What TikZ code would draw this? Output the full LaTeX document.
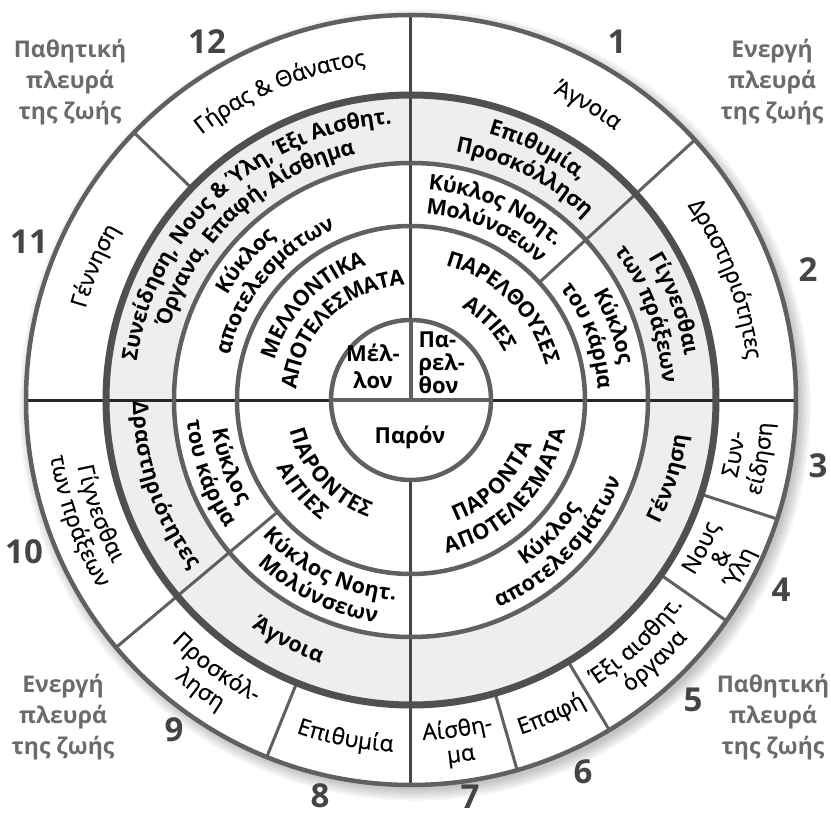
\documentclass[tikz,border=0pt]{standalone}
\usepackage{fontspec}
\setmainfont{Open Sans}
\newfontface\midface{Open Sans}[FakeBold=0.6]
\usepackage{tikz}
\usetikzlibrary{decorations.text}
\definecolor{ringD}{HTML}{606060}
\definecolor{thickD}{HTML}{505050}
\definecolor{bandF}{HTML}{EEEEEE}
\definecolor{numG}{HTML}{454545}
\definecolor{sideG}{HTML}{6B6B6B}

\newcommand\outfont{\midface\fontsize{22.5}{22.5}\selectfont}
\newcommand\ringfont{\bfseries\fontsize{21.5}{21.5}\selectfont}
% text along an arc: radius, middle angle, font, text
\newcommand\cwtext[4]{%
  \path[decorate, decoration={text along path, text align=center, raise=-7pt,
    text={|#3|#4}}] ({#2+70}:#1) arc[start angle={#2+70}, end angle={#2-70}, radius=#1];}
\newcommand\ccwtext[4]{%
  \path[decorate, decoration={text along path, text align=center, raise=-7pt,
    text={|#3|#4}}] ({#2-70}:#1) arc[start angle={#2-70}, end angle={#2+70}, radius=#1];}

\begin{document}
\begin{tikzpicture}[x=1pt,y=1pt,
  ring/.style={draw=ringD, line width=4.5pt},
  thickring/.style={draw=thickD, line width=7pt},
  divider/.style={draw=ringD, line width=3pt},
  num/.style={font=\bfseries\fontsize{33}{33}\selectfont, text=numG},
  side/.style={font=\bfseries\fontsize{23}{31}\selectfont, text=sideG, align=center},
  inner/.style={font=\bfseries\fontsize{22}{23}\selectfont},
  ]
\useasboundingbox (-411,-417) rectangle (420,400);

% === shadow and disc
\foreach \k in {1,...,8} {\fill[black, opacity=0.03] (4,-5) circle ({383+\k*1.6});}
\fill[white] (0,0) circle (385);
\fill[bandF, even odd rule] (0,0) circle (305) (0,0) circle (237);

% === cross lines
\draw[line width=3pt, draw=black!85] (-385,0) -- (385,0);
\draw[line width=3pt, draw=numG] (0,385) -- (0,0);
\draw[line width=3pt, draw=numG] (0,-80) -- (0,-385);

% === dividers
\foreach \a in {136,248,-18,-35,-59,-74} {\draw[divider] (\a:305) -- (\a:385);}
\foreach \a in {42.5,220} {\draw[divider] (\a:174) -- (\a:385);}

% === rings
\draw[ring] (0,0) circle (385);
\draw[thickring] (0,0) circle (305);
\draw[ring] (0,0) circle (237);
\draw[ring] (0,0) circle (174);
\draw[ring, fill=white] (0,0) circle (80);
\draw[ring, line width=3.5pt] (-80,0) -- (80,0);
\draw[ring, line width=3.5pt] (0,80) -- (0,0);

% === top right
\cwtext{345}{59}{\outfont}{Άγνοια}
\cwtext{345}{21}{\outfont}{Δραστηριότητες}
\cwtext{284}{63}{\ringfont}{Επιθυμία,}
\cwtext{259}{63}{\ringfont}{Προσκόλληση}
\cwtext{284}{20}{\ringfont}{Γίγνεσθαι}
\cwtext{259}{20}{\ringfont}{των πράξεων}
\cwtext{218}{66}{\ringfont}{Κύκλος Νοητ.}
\cwtext{194}{66}{\ringfont}{Μολύνσεων}
\cwtext{218}{20}{\ringfont}{Κύκλος}
\cwtext{194}{20}{\ringfont}{του κάρμα}
\cwtext{146}{45}{\ringfont}{ΠΑΡΕΛΘΟΥΣΕΣ}
\cwtext{112}{44}{\ringfont}{ΑΙΤΙΕΣ}

% === top left
\cwtext{345}{113}{\outfont}{Γήρας {\&} Θάνατος}
\cwtext{345}{157}{\outfont}{Γέννηση}
\cwtext{284}{133}{\ringfont}{Συνείδηση, Νους {\&} Ύλη, Έξι Αισθητ.}
\cwtext{259}{133}{\ringfont}{Όργανα, Επαφή, Αίσθημα}
\cwtext{218}{140}{\ringfont}{Κύκλος}
\cwtext{194}{140}{\ringfont}{αποτελεσμάτων}
\cwtext{149}{136}{\ringfont}{ΜΕΛΛΟΝΤΙΚΑ}
\cwtext{122}{134}{\ringfont}{ΑΠΟΤΕΛΕΣΜΑΤΑ}

% === bottom left
\ccwtext{333}{200}{\outfont}{Γίγνεσθαι}
\ccwtext{358}{200}{\outfont}{των πράξεων}
\ccwtext{271}{199}{\ringfont}{Δραστηριότητες}
\ccwtext{194}{200}{\ringfont}{Κύκλος}
\ccwtext{218}{200}{\ringfont}{του κάρμα}
\ccwtext{118}{222}{\ringfont}{ΠΑΡΟΝΤΕΣ}
\ccwtext{143}{220}{\ringfont}{ΑΙΤΙΕΣ}
\ccwtext{194}{244}{\ringfont}{Κύκλος Νοητ.}
\ccwtext{218}{244}{\ringfont}{Μολύνσεων}
\ccwtext{271}{243}{\ringfont}{Άγνοια}
\ccwtext{333}{234}{\outfont}{Προσκόλ-}
\ccwtext{358}{234}{\outfont}{ληση}
\ccwtext{345}{259}{\outfont}{Επιθυμία}

% === bottom right
\ccwtext{333}{-82}{\outfont}{Αίσθη-}
\ccwtext{358}{-82}{\outfont}{μα}
\ccwtext{345}{-66}{\outfont}{Επαφή}
\ccwtext{333}{-47}{\outfont}{Έξι αισθητ.}
\ccwtext{358}{-47}{\outfont}{όργανα}
\ccwtext{326}{-27}{\outfont}{Νους}
\ccwtext{348}{-27}{\outfont}{{\&}}
\ccwtext{369}{-27}{\outfont}{Ύλη}
\ccwtext{328}{-9.5}{\outfont}{Συν-}
\ccwtext{355}{-9.5}{\outfont}{είδηση}
\ccwtext{271}{-17}{\ringfont}{Γέννηση}
\ccwtext{194}{-44}{\ringfont}{Κύκλος}
\ccwtext{218}{-44}{\ringfont}{αποτελεσμάτων}
\ccwtext{122}{-45}{\ringfont}{ΠΑΡΟΝΤΑ}
\ccwtext{150}{-44}{\ringfont}{ΑΠΟΤΕΛΕΣΜΑΤΑ}

% === centre
\node[inner, align=center] (mellon) at (-38,34) {Μέλ-\\[4pt]λον};
\node[inner, align=left, anchor=west] (parelthon) at (4,37) {Πα-\\ρελ-\\θον};
\node[inner] (paron) at (-1,-37) {Παρόν};

% === numbers round the rim
\foreach \lbl/\x/\y in {1/206/358, 2/397/130, 3/407/-66, 4/370/-190, 5/282/-300,
  6/172/-372, 7/59/-397, 8/-91/-396, 9/-237/-330, 10/-387/-152, 11/-382/158, 12/-204/358}
  {\node[num] (n\lbl) at (\x,\y) {\lbl};}

% === sides of life
\node[side] (pasTL) at (-341,318) {Παθητική\\πλευρά\\της ζωής};
\node[side] (actTR) at (361,318) {Ενεργή\\πλευρά\\της ζωής};
\node[side] (actBL) at (-348,-317) {Ενεργή\\πλευρά\\της ζωής};
\node[side] (pasBR) at (362,-317) {Παθητική\\πλευρά\\της ζωής};

\end{tikzpicture}
\end{document}
